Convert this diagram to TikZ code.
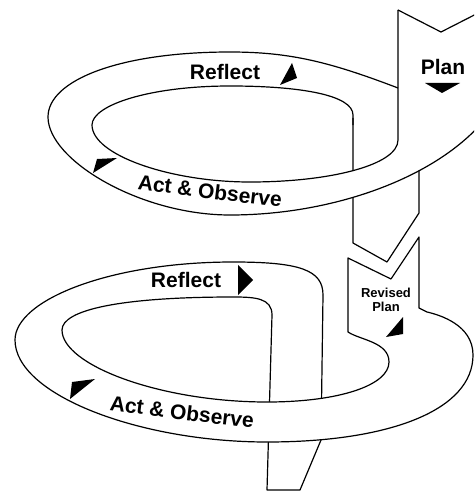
\documentclass[tikz,border=0pt]{standalone}
\usepackage{fontspec}
\setmainfont{Liberation Sans}
\usepackage{tikz}

\begin{document}
\begin{tikzpicture}[x=1pt,y=-1pt,line width=1.2pt,line join=round,
  lbl/.style={font=\bfseries\fontsize{21}{24}\selectfont,inner sep=0pt},
  small/.style={font=\bfseries\fontsize{13}{14}\selectfont,inner sep=0pt,align=center}]
\useasboundingbox (0,0) rectangle (474,492);
\clip (0,0) rectangle (474,492);

% top loop, back: reflect half turning down behind the plan
\draw (398,88) -- (419,96) -- (419,213) -- (387,262) -- (353,243) -- (353,118);
% top loop, front: plan coming down into act & observe
\fill[white] (398,10) -- (441,32) -- (490,7) -- (490,110) -- (480,125)
  .. controls (430,180) and (330,215) .. (230,215)
  .. controls (140,215) and (48,160) .. (48,117) -- (92,125)
  .. controls (92,155) and (170,182) .. (250,182)
  .. controls (330,182) and (398,165) .. (398,140) -- cycle;
\draw (398,10) -- (441,32) -- (490,7);
\draw (398,88) .. controls (330,62) and (290,52) .. (230,52)
  .. controls (120,52) and (48,80) .. (48,117)
  .. controls (48,160) and (140,215) .. (230,215)
  .. controls (330,215) and (430,180) .. (480,125);
\draw (353,125) -- (353,115) .. controls (353,95) and (300,86) .. (230,86)
  .. controls (150,86) and (92,105) .. (92,125)
  .. controls (92,155) and (170,182) .. (250,182)
  .. controls (330,182) and (398,165) .. (398,140) -- (398,10);

% bottom loop, back: reflect half turning down into the tail
\draw (323,295) -- (321,440) -- (300,490) -- (267,490) -- (272,315);
% bottom loop, front: revised plan into act & observe
\fill[white] (348,258) -- (391,279) -- (419,237) -- (419,308) -- (427,312)
  .. controls (440,315) and (473,325) .. (473,355)
  .. controls (473,410) and (390,442) .. (267,442)
  .. controls (140,442) and (15,395) .. (15,340) -- (62,330)
  .. controls (62,365) and (160,402) .. (267,402)
  .. controls (340,402) and (389,385) .. (389,362)
  .. controls (389,342) and (360,340) .. (348,332) -- cycle;
\draw (391,279) -- (419,237) -- (419,308) -- (427,312)
  .. controls (440,315) and (473,325) .. (473,355)
  .. controls (473,410) and (390,442) .. (267,442)
  .. controls (140,442) and (15,395) .. (15,340)
  .. controls (15,300) and (110,262) .. (233,262)
  .. controls (300,262) and (323,270) .. (323,295);
\draw (391,279) -- (348,258) -- (348,332)
  .. controls (360,340) and (389,342) .. (389,362)
  .. controls (389,385) and (340,402) .. (267,402)
  .. controls (160,402) and (62,365) .. (62,330)
  .. controls (62,310) and (120,297) .. (233,297)
  .. controls (255,297) and (272,298) .. (272,315);

% arrow heads
\fill (292,63) -- (280,85) -- (297,78) -- cycle;
\fill (425,83) -- (460,83) -- (442,93) -- cycle;
\fill (97,159) -- (117,158) -- (93,173) -- cycle;
\fill (238,265) -- (238,295) -- (253,280) -- cycle;
\fill (403,317) -- (403,334) -- (386,337) -- cycle;
\fill (72,382) -- (95,379) -- (70,399) -- cycle;

% labels
\node[lbl] (reflecttop) at (225,72) {Reflect};
\node[lbl] (plantop) at (443,67) {Plan};
\node[lbl,rotate=-7] (acttop) at (210,191) {Act \& Observe};
\node[lbl] (reflectbot) at (186,280) {Reflect};
\node[small] (revplan) at (386,300) {Revised\\Plan};
\node[lbl,rotate=-7] (actbot) at (182,412) {Act \& Observe};
\end{tikzpicture}
\end{document}
